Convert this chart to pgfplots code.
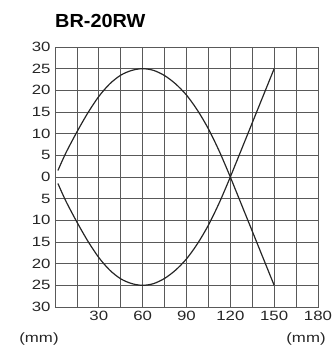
\documentclass[border=0pt]{standalone}
\usepackage{fontspec}
\setmainfont{Liberation Sans}
\newfontfamily\lblfont[FakeStretch=1.25]{Liberation Sans}
\newfontfamily\ttlfont[FakeStretch=1.05]{Liberation Sans}
\usepackage{pgfplots}
\usepackage{pgfplotstable}
\pgfplotsset{compat=1.18}

% upper and lower arms of the beam pattern (mm)
\pgfplotstableread{
x y
2 1.5
7.5 5.6
15 10.4
22.5 14.8
30 18.6
37.5 21.5
45 23.5
52.5 24.6
60 25
67.5 24.6
75 23.4
82.5 21.5
90 18.9
97.5 15.4
105 11.1
112.5 5.9
120 0
}\beamup
\pgfplotstableread{
x y
2 -1.5
7.5 -5.6
15 -10.4
22.5 -14.8
30 -18.6
37.5 -21.5
45 -23.5
52.5 -24.6
60 -25
67.5 -24.6
75 -23.4
82.5 -21.5
90 -18.9
97.5 -15.4
105 -11.1
112.5 -5.9
120 0
}\beamdown

\begin{document}
\begin{tikzpicture}
\path[use as bounding box] (-55bp,-41bp) rectangle (278bp,307bp);
\begin{axis}[
    at={(0,0)}, anchor=south west,
    scale only axis,
    width=263bp, height=260bp,
    xmin=0, xmax=180, ymin=-30, ymax=30,
    clip mode=individual,
    xtick={0,15,...,180},
    xticklabels={,,30,,60,,90,,120,,150,,180},
    ytick={-30,-25,...,30},
    yticklabels={30,25,20,15,10,5,0,5,10,15,20,25,30},
    major tick length=0pt,
    grid=major,
    grid style={color=black!65, line width=0.8pt},
    axis line style={color=black!65, line width=0.9pt},
    ticklabel style={font=\lblfont\fontsize{13.5}{14}\selectfont, color=black!85},
    yticklabel style={xshift=-1bp},
    xticklabel style={yshift=-1bp},
]
\addplot[black!85, line width=1.2pt, smooth, tension=0.5] table[x=x,y=y] {\beamup};
\addplot[black!85, line width=1.2pt, smooth, tension=0.5] table[x=x,y=y] {\beamdown};
\addplot[black!85, line width=1.2pt] coordinates {(120,0) (150,25)};
\addplot[black!85, line width=1.2pt] coordinates {(120,0) (150,-25)};
\node[anchor=west, inner sep=0pt, font=\ttlfont\bfseries\fontsize{19}{20}\selectfont]
    at (rel axis cs:0,1) [yshift=26.5bp] {BR-20RW};
\node[inner sep=0pt, font=\lblfont\fontsize{13.5}{14}\selectfont, color=black!85]
    at (rel axis cs:0,0) [xshift=-16bp, yshift=-32bp] {(mm)};
\node[inner sep=0pt, font=\lblfont\fontsize{13.5}{14}\selectfont, color=black!85]
    at (rel axis cs:1,0) [xshift=-12bp, yshift=-32bp] {(mm)};
\end{axis}
\end{tikzpicture}
\end{document}
